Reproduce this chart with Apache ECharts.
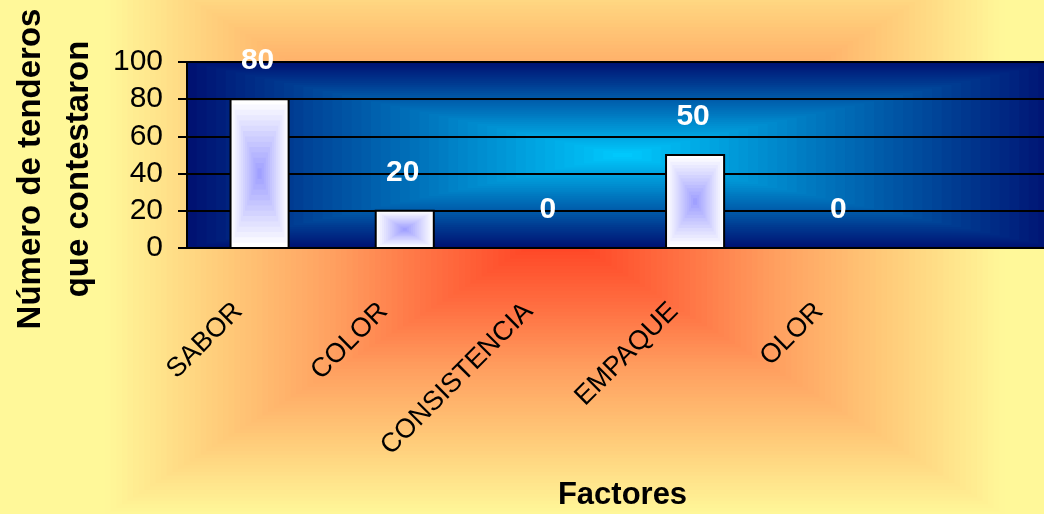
<!DOCTYPE html>
<html>
<head>
<meta charset="utf-8">
<script src="https://cdn.jsdelivr.net/npm/echarts@6/dist/echarts.min.js"></script>
<style>
  html, body { margin: 0; padding: 0; background: #fff899; }
  #main { width: 1044px; height: 514px; }
</style>
</head>
<body>
<div id="main"></div>
<script>
// datos
var categorias = ['SABOR', 'COLOR', 'CONSISTENCIA', 'EMPAQUE', 'OLOR', '']
var valores = [80, 20, 0, 50, 0, null]
var ticksY = [0, 20, 40, 60, 80, 100]

var fuente = '"Liberation Sans", Arial, sans-serif'
var chart = echarts.init(document.getElementById('main'))

// caja del area de trazado (el ultimo hueco queda fuera del lienzo)
var plot = { left: 187, top: 62, width: 871, height: 186 }

function hex2rgb(h) {
  return [parseInt(h.substr(1, 2), 16), parseInt(h.substr(3, 2), 16), parseInt(h.substr(5, 2), 16)]
}
function mix(a, b, t) {
  var x = hex2rgb(a), y = hex2rgb(b)
  return 'rgb(' + x.map(function (c, i) { return Math.round(c + (y[i] - c) * t) }).join(',') + ')'
}
function colorAt(stops, r) {
  for (var i = 1; i < stops.length; i++) {
    if (r <= stops[i][0]) {
      var t = (r - stops[i - 1][0]) / (stops[i][0] - stops[i - 1][0])
      return mix(stops[i - 1][1], stops[i][1], t)
    }
  }
  return stops[stops.length - 1][1]
}
// degradado "rectangular desde el centro" con rectangulos anidados
function rectGradient(cx, cy, hw, hh, stops, n, z) {
  var els = []
  for (var i = 0; i < n; i++) {
    var r = 1 - i / n
    els.push({
      type: 'rect', silent: true, z: z,
      shape: { x: cx - hw * r, y: cy - hh * r, width: 2 * hw * r, height: 2 * hh * r },
      style: { fill: colorAt(stops, r) }
    })
  }
  return els
}

var fondo = rectGradient(555, 230, 450, 285, [
  [0, '#ff3a1e'], [0.3, '#ff7445'], [0.5, '#ffa060'], [0.75, '#ffcc7a'], [1, '#fff799']
], 80, -20)
var areaPlot = rectGradient(plot.left + plot.width / 2, plot.top + plot.height / 2, plot.width / 2, plot.height / 2, [
  [0, '#00ccff'], [1, '#001272']
], 45, -10)

var datos = []
valores.forEach(function (v, i) { if (v != null) datos.push([i, v]) })

var option = {
  backgroundColor: '#fff899',
  animation: false,
  textStyle: { fontFamily: fuente },
  graphic: { elements: fondo.concat(areaPlot) },
  grid: {
    left: plot.left, top: plot.top, width: plot.width, height: plot.height,
    outerBoundsMode: 'none',
    show: true, backgroundColor: 'transparent', borderColor: '#808080', borderWidth: 2
  },
  xAxis: {
    type: 'category',
    data: categorias,
    axisLine: { lineStyle: { color: '#000', width: 2 } },
    axisTick: { length: 10, lineStyle: { color: '#000', width: 2 } },
    axisLabel: {
      rotate: 45, interval: 0, color: '#000', fontSize: 27, fontFamily: fuente,
      margin: 38, padding: [0, 30, 0, 0]
    },
    splitLine: { show: false },
    name: 'Factores',
    nameLocation: 'middle',
    nameGap: 232,
    nameMoveOverlap: false,
    nameTextStyle: { color: '#000', fontSize: 31, fontWeight: 'bold', fontFamily: fuente }
  },
  yAxis: {
    type: 'value',
    min: ticksY[0],
    max: ticksY[ticksY.length - 1],
    interval: ticksY[1] - ticksY[0],
    axisLine: { show: true, lineStyle: { color: '#000', width: 2 } },
    axisTick: { show: true, length: 9, lineStyle: { color: '#000', width: 2 } },
    axisLabel: { color: '#000', fontSize: 30, fontFamily: fuente, margin: 24 },
    splitLine: { lineStyle: { color: '#000', width: 2 } },
    name: 'Número de tenderos\nque contestaron',
    nameLocation: 'middle',
    nameRotate: 90,
    nameGap: 84,
    nameMoveOverlap: false,
    nameTextStyle: {
      color: '#000', fontSize: 33, fontWeight: 'bold', fontFamily: fuente,
      lineHeight: 48, padding: [0, 28, 0, 0]
    }
  },
  series: [
    {
      type: 'custom',
      data: datos,
      encode: { x: 0, y: 1 },
      renderItem: function (params, api) {
        var v = api.value(1)
        var base = api.coord([api.value(0), 0])
        var tope = api.coord([api.value(0), v])
        var w = api.size([1, 0])[0] * 0.4
        var h = base[1] - tope[1]
        var x = tope[0] - w / 2
        var hijos = []
        if (h > 0) {
          var n = 14
          for (var i = 0; i < n; i++) {
            var t = i / n
            hijos.push({
              type: 'rect',
              shape: { x: x + t * w / 2, y: tope[1] + t * h / 2, width: w * (1 - t), height: h * (1 - t) },
              style: { fill: mix('#ffffff', '#9999ff', t) }
            })
          }
          hijos.push({
            type: 'rect',
            shape: { x: x, y: tope[1], width: w, height: h },
            style: { fill: 'none', stroke: '#000', lineWidth: 2 }
          })
        }
        hijos.push({
          type: 'text',
          style: {
            text: String(v), x: tope[0] - 2, y: tope[1] - 38,
            fill: '#fff', font: 'bold 30px ' + fuente,
            align: 'center', verticalAlign: 'middle'
          }
        })
        return { type: 'group', children: hijos }
      }
    }
  ]
}
chart.setOption(option)
</script>
</body>
</html>
